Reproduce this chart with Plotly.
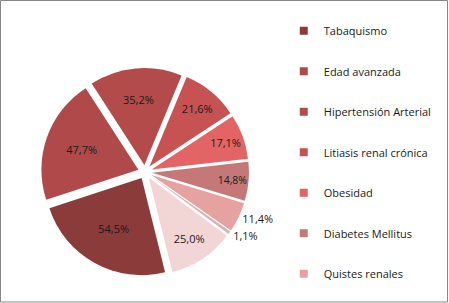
import plotly.graph_objects as go

# ---- data ----
labels = ["Tabaquismo", "Edad avanzada", "Hipertensión Arterial",
          "Litiasis renal crónica", "Obesidad", "Diabetes Mellitus",
          "Quistes renales", "Otros", "Ninguno"]
values = [54.5, 47.7, 35.2, 21.6, 17.1, 14.8, 11.4, 1.1, 25.0]
legend_labels = labels[:7]

# ---- style ----
colors = ["#8C3B3B", "#B04A4A", "#B34B4B", "#C65252", "#E36464",
          "#C47878", "#E6A1A1", "#D9B3B3", "#F2D5D5"]
text_positions = ["inside"] * 6 + ["outside", "outside", "inside"]
texts = [f"{v:.1f}%".replace(".", ",") for v in values]
FONT = "Open Sans"

fig = go.Figure()
fig.add_trace(go.Pie(
    labels=labels, values=values, text=texts, textinfo="text",
    textposition=text_positions, insidetextorientation="horizontal",
    sort=False, direction="clockwise", rotation=166,
    pull=[0.072] * len(values),
    marker=dict(colors=colors, line=dict(width=0)),
    textfont=dict(family=FONT, size=11, color="#1a1a1a"),
    showlegend=False, hoverinfo="skip",
    domain=dict(x=[41 / 449, 249 / 449], y=[27 / 303, 235 / 303]),
))

for lab, col in zip(legend_labels, colors):
    fig.add_trace(go.Scatter(
        x=[None], y=[None], mode="markers", name=lab, legendgroup=lab,
        marker=dict(symbol="square", size=8, color=col), hoverinfo="skip",
    ))

fig.update_layout(
    width=449, height=303,
    margin=dict(l=0, r=0, t=0, b=0),
    paper_bgcolor="white", plot_bgcolor="white",
    xaxis=dict(visible=False), yaxis=dict(visible=False),
    font=dict(family=FONT, size=11, color="#1a1a1a"),
    legend=dict(x=0.632, xanchor="left", y=0.946, yanchor="top",
                tracegroupgap=21.5, traceorder="grouped",
                font=dict(family=FONT, size=11, color="#1a1a1a"),
                bgcolor="rgba(0,0,0,0)"),
    shapes=[dict(type="rect", xref="paper", yref="paper",
                 x0=0.5 / 449, x1=447.5 / 449, y0=1.0 / 303, y1=302.5 / 303,
                 line=dict(color="#868686", width=1), fillcolor="rgba(0,0,0,0)")],
)

fig.write_html("out.html",
               config={"displayModeBar": False},
               post_script="document.body.style.margin='0';document.body.style.overflow='hidden';")
